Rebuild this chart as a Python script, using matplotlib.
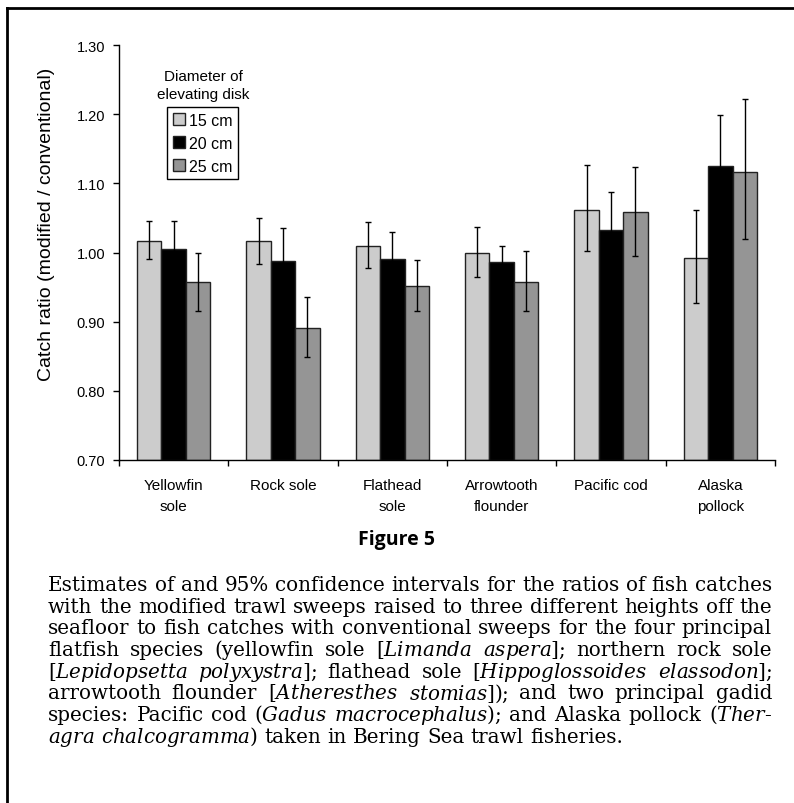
import numpy as np
import matplotlib
matplotlib.use("Agg")
import matplotlib.pyplot as plt
from matplotlib.patches import Patch

# data
species = ["Yellowfin\nsole", "Rock sole", "Flathead\nsole",
           "Arrowtooth\nflounder", "Pacific cod", "Alaska\npollock"]
disks = ["15 cm", "20 cm", "25 cm"]
colors = ["#cccccc", "#000000", "#959595"]

ratio_15 = [1.017, 1.016, 1.010, 1.000, 1.062, 0.992]
low_15 = [0.990, 0.984, 0.977, 0.964, 1.002, 0.927]
high_15 = [1.046, 1.050, 1.044, 1.037, 1.126, 1.061]

ratio_20 = [1.005, 0.987, 0.991, 0.986, 1.033, 1.125]
low_20 = [0.965, 0.940, 0.953, 0.962, 0.980, 1.055]
high_20 = [1.045, 1.035, 1.030, 1.010, 1.088, 1.199]

ratio_25 = [0.957, 0.891, 0.952, 0.957, 1.058, 1.116]
low_25 = [0.916, 0.849, 0.916, 0.916, 0.995, 1.020]
high_25 = [1.000, 0.936, 0.989, 1.002, 1.124, 1.222]

caption = [
    "Estimates of and 95% confidence intervals for the ratios of fish catches",
    "with the modified trawl sweeps raised to three different heights off the",
    "seafloor to fish catches with conventional sweeps for the four principal",
    "flatfish species (yellowfin sole [$Limanda$ $aspera$]; northern rock sole",
    "[$Lepidopsetta$ $polyxystra$]; flathead sole [$Hippoglossoides$ $elassodon$];",
    "arrowtooth flounder [$Atheresthes$ $stomias$]); and two principal gadid",
    "species: Pacific cod ($Gadus$ $macrocephalus$); and Alaska pollock ($Ther$-",
    "$agra$ $chalcogramma$) taken in Bering Sea trawl fisheries.",
]

plt.rcParams['font.family'] = ['Liberation Sans', 'DejaVu Sans']
plt.rcParams['mathtext.fontset'] = 'dejavuserif'

W, H = 794, 804
fig = plt.figure(figsize=(W / 100, H / 100), dpi=100)
ax = fig.add_axes([119 / W, 1 - 461 / H, (775 - 119) / W, (461 - 46) / H])

x = np.arange(len(species))
bw = 0.224
series = [(ratio_15, low_15, high_15), (ratio_20, low_20, high_20),
          (ratio_25, low_25, high_25)]
for i, (vals, lo, hi) in enumerate(series):
    vals = np.array(vals)
    err = [vals - np.array(lo), np.array(hi) - vals]
    ax.bar(x + (i - 1) * bw, vals - 0.70, bw, bottom=0.70, color=colors[i],
           edgecolor="#222222", linewidth=1.0, zorder=2)
    ax.errorbar(x + (i - 1) * bw, vals, yerr=err, fmt="none", ecolor="black",
                elinewidth=1.0, capsize=2.5, capthick=1.0, zorder=3)

ax.set_xlim(-0.5, 5.5)
ax.set_ylim(0.70, 1.30)
ax.set_yticks(np.arange(0.70, 1.301, 0.10))
ax.set_yticklabels([f"{v:.2f}" for v in np.arange(0.70, 1.301, 0.10)])
ax.set_xticks(np.arange(-0.5, 5.6, 1.0))
ax.set_xticklabels([])
ax.set_xticks(x, minor=True)
ax.set_xticklabels(species, minor=True)
for lbl in ax.get_xticklabels(minor=True):
    lbl.set_linespacing(1.65)
ax.tick_params(axis="x", which="minor", length=0, pad=13, labelsize=11)
ax.tick_params(axis="both", which="major", direction="out", length=4,
               width=1, labelsize=10.5, colors="black")
ax.tick_params(axis="y", pad=6)
for s in ["top", "right"]:
    ax.spines[s].set_visible(False)
for s in ["left", "bottom"]:
    ax.spines[s].set_linewidth(1.0)

fig.text(47 / W, 1 - 224 / H, "Catch ratio (modified / conventional)",
         rotation=90, ha="center", va="center", fontsize=14)

# legend with title above its box
fig.text(203 / W, 1 - 77 / H, "Diameter of", ha="center", va="center", fontsize=11)
fig.text(203 / W, 1 - 95 / H, "elevating disk", ha="center", va="center", fontsize=11)
handles = [Patch(facecolor=c, edgecolor="#222222", linewidth=1.0) for c in colors]
leg = fig.legend(handles, disks, loc="upper left",
                 bbox_to_anchor=(167 / W, 1 - 108 / H), borderaxespad=0,
                 fontsize=11.5, handlelength=0.75, handleheight=0.75,
                 handletextpad=0.3, borderpad=0.35, labelspacing=0.5,
                 fancybox=False, framealpha=1)
leg.get_frame().set_edgecolor("black")
leg.get_frame().set_linewidth(1.0)

fig.text(397 / W, 1 - 540 / H, "Figure 5", ha="center", va="center",
         fontsize=14, fontweight="bold", family="Open Sans")

# caption, justified word by word
renderer = fig.canvas.get_renderer()
left_px, right_px = 48, 772
y0, dy = 591, 21.7


def word_widths(words, size):
    out = []
    for w in words:
        t = fig.text(0, 0, w, fontsize=size, family="DejaVu Serif")
        out.append(t.get_window_extent(renderer).width)
        t.remove()
    return out


# pick the size at which the widest justified line fits with normal spaces
base = 10.0
natural = []
for line in caption[:-1]:
    words = line.split(" ")
    natural.append(sum(word_widths(words, base)) + base * 100 / 72 * 0.318 * (len(words) - 1))
cap_size = base * (right_px - left_px) / max(natural)

for k, line in enumerate(caption):
    words = line.split(" ")
    widths = word_widths(words, cap_size)
    if k < len(caption) - 1:
        gap = (right_px - left_px - sum(widths)) / (len(words) - 1)
    else:
        gap = cap_size * 100 / 72 * 0.318
    xpos = left_px
    for w, wd in zip(words, widths):
        fig.text(xpos / W, 1 - (y0 + k * dy) / H, w, ha="left", va="baseline",
                 fontsize=cap_size, family="DejaVu Serif")
        xpos += wd + gap

# frame on left and top edges
fig.add_artist(plt.Line2D([7 / W, 7 / W], [0, 1 - 9 / H], color="black",
                          linewidth=2, transform=fig.transFigure))
fig.add_artist(plt.Line2D([7 / W, 1], [1 - 9 / H, 1 - 9 / H], color="black",
                          linewidth=2, transform=fig.transFigure))

fig.savefig("out.png", dpi=100)
